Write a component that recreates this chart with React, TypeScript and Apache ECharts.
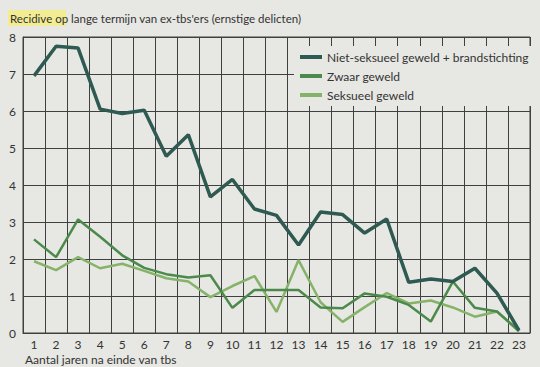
import React, { useEffect, useRef } from "react";
import * as echarts from "echarts";

const categories = ["1","2","3","4","5","6","7","8","9","10","11","12","13","14","15","16","17","18","19","20","21","22","23"];
const nietSeksueel = [6.95, 7.75, 7.7, 6.05, 5.93, 6.02, 4.78, 5.36, 3.68, 4.15, 3.35, 3.18, 2.38, 3.27, 3.2, 2.7, 3.08, 1.37, 1.46, 1.39, 1.75, 1.08, 0.07];
const zwaarGeweld = [2.53, 2.05, 3.07, 2.6, 2.1, 1.76, 1.59, 1.5, 1.56, 0.68, 1.16, 1.16, 1.16, 0.69, 0.67, 1.07, 0.98, 0.76, 0.31, 1.39, 0.68, 0.58, 0.06];
const seksueelGeweld = [1.94, 1.7, 2.05, 1.75, 1.87, 1.68, 1.48, 1.39, 0.97, 1.27, 1.54, 0.57, 1.97, 0.83, 0.3, 0.7, 1.08, 0.8, 0.88, 0.69, 0.44, 0.58, 0.04];
const yTicks = [0, 8, 1];

const seriesNames = ["Niet-seksueel geweld + brandstichting", "Zwaar geweld", "Seksueel geweld"];
const titleText = "Recidive op lange termijn van ex-tbs'ers (ernstige delicten)";
const xAxisTitle = "Aantal jaren na einde van tbs";

const BG = "#e7e7e3";
const GRID = "#404040";
const FONT = "Lato, 'Liberation Sans', sans-serif";

export default function App() {
  const ref = useRef<HTMLDivElement>(null);
  useEffect(() => {
    if (!ref.current) return;
    const chart = echarts.init(ref.current, undefined, { renderer: "svg" });
    chart.setOption({
      animation: false,
      textStyle: { fontFamily: FONT },
      grid: { left: 23, right: 10, top: 37, bottom: 34, show: true, borderColor: GRID, borderWidth: 1, backgroundColor: "transparent" },
      graphic: [
        { type: "rect", left: 8, top: 10, shape: { width: 58, height: 16 }, style: { fill: "rgba(246,238,120,0.75)" }, z: 0 },
        { type: "text", left: 10, top: 12, style: { text: titleText, font: `11.5px ${FONT}`, fill: "#333" }, z: 10 },
        { type: "text", left: 25, top: 353, style: { text: xAxisTitle, font: `12px ${FONT}`, fill: "#333" } },
      ],
      legend: {
        orient: "vertical",
        left: 294,
        top: 46,
        padding: [5, 6, 5, 6],
        backgroundColor: BG,
        itemWidth: 22,
        itemHeight: 4,
        itemGap: 7,
        icon: "rect",
        z: 10,
        textStyle: { fontSize: 12, color: "#333", fontFamily: FONT, lineHeight: 12 },
        data: seriesNames,
      },
      xAxis: {
        type: "category",
        data: categories,
        boundaryGap: true,
        axisLine: { show: true, lineStyle: { color: GRID, width: 1 } },
        axisTick: { show: false },
        axisLabel: { color: "#333", fontSize: 12, margin: 5, fontFamily: FONT, interval: 0 },
        splitLine: { show: true, interval: 0, lineStyle: { color: GRID, width: 1, type: "solid" } },
      },
      yAxis: {
        type: "value",
        min: yTicks[0],
        max: yTicks[1],
        interval: yTicks[2],
        axisLine: { show: true, lineStyle: { color: GRID, width: 1 } },
        axisTick: { show: false },
        axisLabel: { color: "#333", fontSize: 12, margin: 7, fontFamily: FONT },
        splitLine: { show: true, lineStyle: { color: GRID, width: 1, type: "solid" } },
      },
      series: [
        { name: seriesNames[2], type: "line", data: seksueelGeweld, symbol: "none", z: 3, lineStyle: { color: "#86b36a", width: 2.5 }, itemStyle: { color: "#86b36a" } },
        { name: seriesNames[1], type: "line", data: zwaarGeweld, symbol: "none", z: 4, lineStyle: { color: "#4c8a4c", width: 2.5 }, itemStyle: { color: "#4c8a4c" } },
        { name: seriesNames[0], type: "line", data: nietSeksueel, symbol: "none", z: 5, lineStyle: { color: "#2f5a52", width: 3.5 }, itemStyle: { color: "#2f5a52" } },
      ],
    });
    return () => chart.dispose();
  }, []);
  return <div ref={ref} style={{ width: 540, height: 367, position: "fixed", left: 0, top: 0, background: BG }} />;
}
